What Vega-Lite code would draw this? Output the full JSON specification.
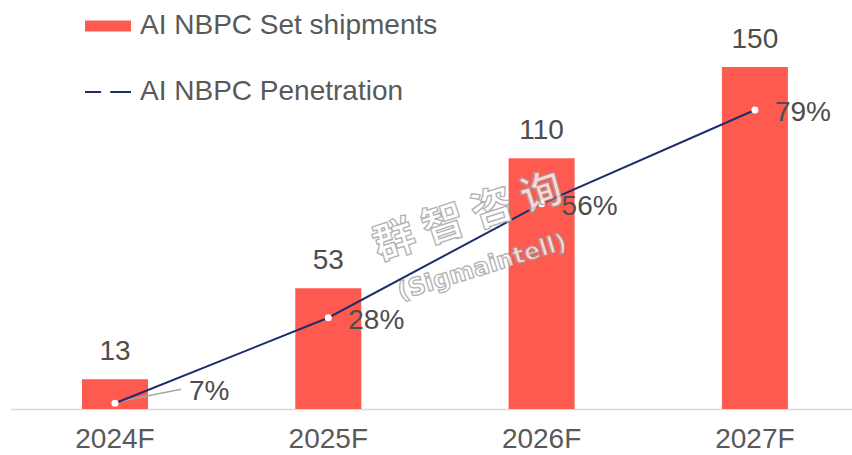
{
  "$schema": "https://vega.github.io/schema/vega-lite/v6.json",
  "autosize": {"type": "none"},
  "padding": {"left": 10, "top": 0, "right": 0, "bottom": 46},
  "width": 842,
  "height": 409,
  "background": "white",
  "config": {
    "view": {"stroke": null},
    "font": "Liberation Sans",
    "text": {"font": "Liberation Sans"}
  },
  "data": {
    "values": [
      {"year": "2024F", "shipments": 13, "penetration": 0.07, "series": "AI NBPC Set shipments"},
      {"year": "2025F", "shipments": 53, "penetration": 0.28, "series": "AI NBPC Set shipments"},
      {"year": "2026F", "shipments": 110, "penetration": 0.56, "series": "AI NBPC Set shipments"},
      {"year": "2027F", "shipments": 150, "penetration": 0.79, "series": "AI NBPC Set shipments"}
    ]
  },
  "encoding": {
    "x": {
      "field": "year",
      "type": "nominal",
      "sort": null,
      "scale": {"paddingInner": 0.6906, "paddingOuter": 0.319, "align": 0.529},
      "axis": {
        "title": null,
        "labelAngle": 0,
        "labelFontSize": 28,
        "labelColor": "#595959",
        "labelFont": "Liberation Sans",
        "labelPadding": 16,
        "ticks": false,
        "domainColor": "#d9d9d9",
        "domainWidth": 1.5,
        "grid": false
      }
    }
  },
  "layer": [
    {
      "mark": {"type": "bar", "color": "#FF5A4F"},
      "encoding": {
        "y": {"field": "shipments", "type": "quantitative", "scale": {"domain": [0, 179.4], "nice": false, "zero": true}, "axis": null},
        "color": {
          "field": "series",
          "type": "nominal",
          "scale": {"domain": ["AI NBPC Set shipments", "AI NBPC Penetration"], "range": ["#FF5A4F", "#1F2D6B"]},
          "legend": {
            "orient": "none",
            "legendX": 74,
            "legendY": 2,
            "title": null,
            "direction": "vertical",
            "symbolSize": 2116,
            "symbolType": "M-1,-0.24H1V0.24H-1Z",
            "labelFontSize": 28,
            "labelColor": "#595959",
            "labelFont": "Liberation Sans",
            "labelOffset": 8,
            "labelLimit": 0,
            "rowPadding": 28,
            "encode": {
              "symbols": {
                "update": {
                  "shape": {"signal": "datum.value === 'AI NBPC Penetration' ? 'M-1,0H-0.3M0.1,0H1' : 'M-1,-0.24H1V0.24H-1Z'"},
                  "fill": {"signal": "datum.value === 'AI NBPC Penetration' ? 'transparent' : '#FF5A4F'"},
                  "stroke": {"signal": "datum.value === 'AI NBPC Penetration' ? '#1F2D6B' : 'transparent'"},
                  "strokeWidth": {"value": 2},
                  "opacity": {"value": 1}
                }
              }
            }
          }
        }
      }
    },
    {
      "mark": {"type": "text", "baseline": "alphabetic", "dy": -19, "fontSize": 28, "color": "#4d4d4d"},
      "encoding": {
        "y": {"field": "shipments", "type": "quantitative", "scale": {"domain": [0, 179.4], "nice": false, "zero": true}, "axis": null},
        "text": {"field": "shipments", "type": "quantitative"}
      }
    },
    {
      "mark": {"type": "rule", "color": "#a6a6a6", "strokeWidth": 1.5, "xOffset": 6, "yOffset": -2, "x2Offset": 66, "y2Offset": -14},
      "transform": [{"filter": "datum.year === '2024F'"}],
      "encoding": {
        "x": {"field": "year", "type": "nominal", "sort": null, "bandPosition": 0.5},
        "x2": {"field": "year"},
        "y": {"field": "penetration", "type": "quantitative", "scale": {"domain": [0.056, 1.06], "nice": false, "zero": false}, "axis": null},
        "y2": {"field": "penetration"}
      }
    },
    {
      "mark": {"type": "line", "color": "#1F2D6B", "strokeWidth": 2},
      "encoding": {
        "y": {"field": "penetration", "type": "quantitative", "scale": {"domain": [0.056, 1.06], "nice": false, "zero": false}, "axis": null}
      }
    },
    {
      "mark": {"type": "point", "filled": true, "color": "white", "size": 50, "opacity": 1},
      "encoding": {
        "y": {"field": "penetration", "type": "quantitative", "scale": {"domain": [0.056, 1.06], "nice": false, "zero": false}, "axis": null}
      }
    },
    {
      "mark": {"type": "text", "align": "left", "baseline": "middle", "dx": 20, "dy": 3, "fontSize": 28, "color": "#4d4d4d"},
      "transform": [{"filter": "datum.year !== '2024F'"}],
      "encoding": {
        "y": {"field": "penetration", "type": "quantitative", "scale": {"domain": [0.056, 1.06], "nice": false, "zero": false}, "axis": null},
        "text": {"field": "penetration", "type": "quantitative", "format": ".0%"}
      }
    },
    {
      "mark": {"type": "text", "align": "left", "baseline": "middle", "dx": 74, "dy": -11, "fontSize": 28, "color": "#4d4d4d"},
      "transform": [{"filter": "datum.year === '2024F'"}],
      "encoding": {
        "y": {"field": "penetration", "type": "quantitative", "scale": {"domain": [0.056, 1.06], "nice": false, "zero": false}, "axis": null},
        "text": {"field": "penetration", "type": "quantitative", "format": ".0%"}
      }
    },
    {
      "mark": {"type": "text", "text": "群 智 咨 询", "angle": -18, "fontSize": 42, "fontWeight": "bold", "font": "Noto Sans CJK SC", "fill": "white", "stroke": "#999999", "strokeWidth": 1.3, "xOffset": 140, "opacity": 0.75},
      "transform": [{"filter": "datum.year === '2025F'"}],
      "encoding": {
        "y": {"datum": 84, "type": "quantitative", "scale": {"domain": [0, 179.4], "nice": false, "zero": true}, "axis": null}
      }
    },
    {
      "mark": {"type": "text", "text": "(Sigmaintell)", "angle": -17, "fontSize": 24, "fontWeight": "bold", "font": "DejaVu Sans", "fill": "white", "stroke": "#999999", "strokeWidth": 1.3, "xOffset": 154, "opacity": 0.75},
      "transform": [{"filter": "datum.year === '2025F'"}],
      "encoding": {
        "y": {"datum": 62, "type": "quantitative", "scale": {"domain": [0, 179.4], "nice": false, "zero": true}, "axis": null}
      }
    }
  ],
  "resolve": {"scale": {"y": "independent"}}
}
